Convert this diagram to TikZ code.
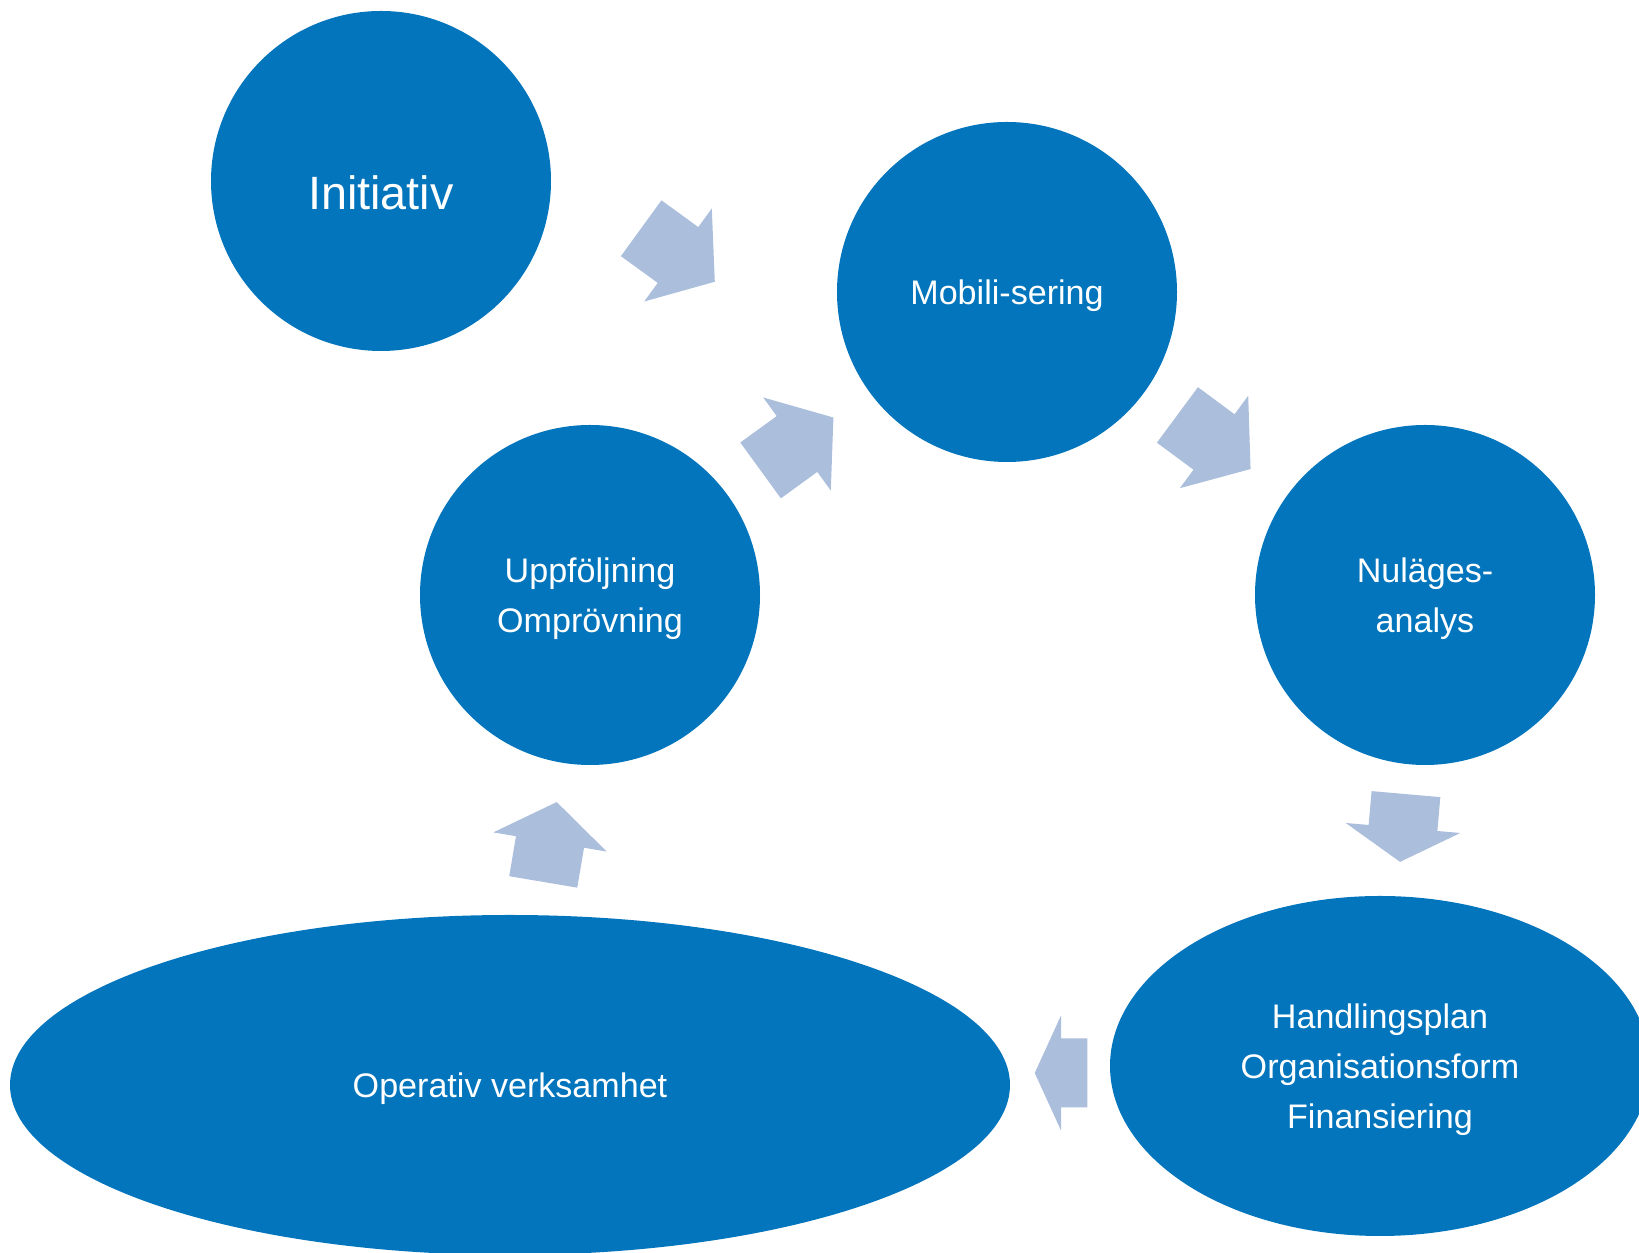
\documentclass[tikz,border=0pt]{standalone}
\usepackage{fontspec}
\setmainfont{Liberation Sans}
\usepackage{tikz}
\usetikzlibrary{shapes.geometric}
\definecolor{stepblue}{RGB}{2,117,189}
\definecolor{flowgray}{RGB}{171,190,220}

\begin{document}
\begin{tikzpicture}[
		phase/.style={circle, fill=stepblue, text=white, minimum size=3.4cm, inner sep=0pt, align=center, text depth=0pt, font=\fontsize{9.7}{14.2}\selectfont},
		wide/.style={phase, ellipse, minimum height=3.4cm},
		flow/.style={fill=flowgray}]
		\useasboundingbox (0,0) rectangle (16.39,12.53);
		\node[phase, text height=0.57cm, font=\fontsize{13.3}{16}\selectfont] (ini) at (3.81,10.72) {Initiativ};
		\node[phase] (mob) at (10.07,9.61) {Mobili-sering};
		\node[phase] (nul) at (14.25,6.58) {Nuläges-\\analys};
		\node[phase] (upp) at (5.90,6.58) {Uppföljning\\Omprövning};
		\node[wide, minimum width=5.4cm] (han) at (13.80,1.87) {Handlingsplan\\Organisationsform\\Finansiering};
		\node[wide, minimum width=10cm] (ope) at (5.10,1.68) {Operativ verksamhet};
		
		\foreach \x/\y/\a/\l in {6.78/9.98/-36/0.91, 7.97/8.09/36/0.90, 12.14/8.11/-36.5/0.91, 14.03/4.25/-95/0.68, 10.61/1.80/180/0.525, 5.50/4.11/80.4/0.81}
			\fill[flow, shift={(\x,\y)}, rotate=\a] (-\l/2,-0.345) -- (0,-0.345) -- (0,-0.575) -- (\l/2,0) -- (0,0.575) -- (0,0.345) -- (-\l/2,0.345) -- cycle;
\end{tikzpicture}
\end{document}
